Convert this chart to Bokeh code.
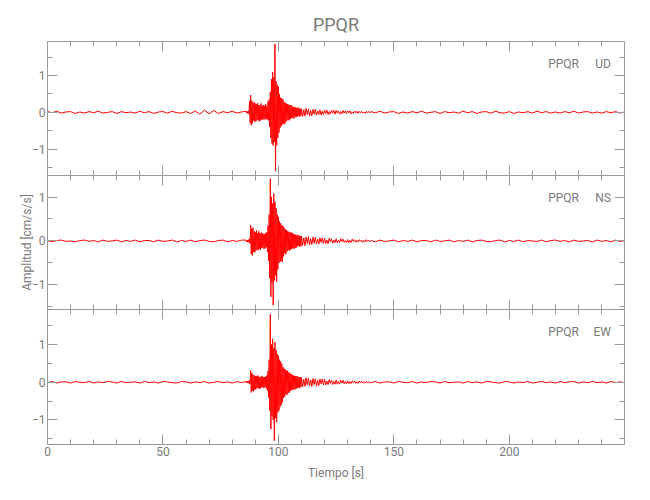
import numpy as np
from bokeh.plotting import figure
from bokeh.layouts import column
from bokeh.models import Range1d, LinearAxis, SingleIntervalTicker, Label, CustomLabelingPolicy
from bokeh.embed import file_html
from bokeh.resources import INLINE

STATION = "PPQR"
COMPONENTS = ["UD", "NS", "EW"]
X_LIMITS = (0, 249.9)
Y_LIMITS = [(-1.72, 1.93), (-1.56, 1.49), (-1.65, 1.93)]

# sampling of each record segment: (start time [s], sample step [s])
SEG_START = [0.0, 86.0, 110.0, 140.0]
SEG_STEP = [2.0, 0.25, 0.5, 2.0]

# ---------------- UD ----------------
ud_pre = [0.02, -0.01, 0.03, -0.02, 0.01, 0.02, -0.03, 0.01, -0.02, 0.02,
          -0.01, 0.03, -0.02, 0.00, 0.02, -0.03, 0.02, -0.01, 0.01, -0.02,
          0.03, -0.01, 0.02, -0.03, 0.01, 0.02, -0.02, 0.03, -0.01, -0.02,
          0.02, -0.03, 0.04, -0.05, 0.06, -0.04, 0.05, -0.03, 0.02, -0.01,
          0.03, -0.02, 0.01]
ud_burst = [0.03, -0.02, 0.03, -0.03, 0.04, -0.05, 0.30, -0.28,
            0.47, -0.35, 0.32, -0.30, 0.26, -0.22, 0.28, -0.25,
            0.24, -0.25, 0.22, -0.20, 0.25, -0.22, 0.20, -0.24,
            0.20, -0.22, 0.24, -0.19, 0.18, -0.21, 0.20, -0.17,
            0.18, -0.20, 0.22, -0.18, 0.16, -0.19, 0.30, -0.22,
            0.35, -0.40, 0.55, -0.70, 0.90, -0.85, 1.10, -0.90,
            0.95, -0.80, 1.86, -1.60, 0.85, -0.90, 0.75, -0.70,
            0.70, -0.55, 0.50, -0.42, 0.40, -0.36, 0.38, -0.33,
            0.35, -0.30, 0.28, -0.32, 0.25, -0.26, 0.24, -0.22,
            0.22, -0.20, 0.21, -0.22, 0.19, -0.17, 0.20, -0.16,
            0.16, -0.15, 0.15, -0.17, 0.13, -0.13, 0.14, -0.13,
            0.12, -0.11, 0.13, -0.10, 0.11, -0.12, 0.10, -0.09]
ud_coda = [0.10, -0.11, 0.07, -0.10, 0.11, -0.06, 0.09, -0.10, 0.05, -0.09,
           0.08, -0.05, 0.09, -0.08, 0.04, -0.06, 0.07, -0.07, 0.03, -0.06,
           0.06, -0.03, 0.06, -0.06, 0.02, -0.05, 0.06, -0.02, 0.05, -0.05,
           0.05, -0.02, 0.04, -0.05, 0.02, -0.04, 0.05, -0.02, 0.04, -0.03,
           0.04, -0.01, 0.04, -0.04, 0.01, -0.03, 0.04, -0.01, 0.03, -0.03,
           0.03, -0.01, 0.03, -0.02, 0.01, -0.03, 0.02, -0.01, 0.03, -0.02]
ud_post = [0.02, -0.01, 0.03, -0.02, 0.01, 0.02, -0.03, 0.01, -0.02, 0.02,
           -0.01, 0.03, -0.02, 0.00, 0.02, -0.03, 0.02, -0.01, 0.01, -0.02,
           0.03, -0.01, 0.02, -0.03, 0.01, 0.02, -0.02, 0.03, -0.01, -0.02,
           0.02, -0.03, 0.01, -0.01, 0.02, -0.02, 0.03, -0.01, 0.02, -0.02,
           0.01, -0.02, 0.02, -0.01, 0.03, -0.02, 0.01, 0.02, -0.02, 0.01,
           -0.02, 0.02, -0.01, 0.02, -0.02, 0.01]

# ---------------- NS ----------------
ns_pre = [0.01, -0.02, 0.01, 0.02, -0.01, 0.00, -0.02, 0.01, 0.02, -0.01,
          0.01, -0.02, 0.02, -0.01, 0.00, 0.02, -0.02, 0.01, -0.01, 0.02,
          -0.02, 0.01, 0.01, -0.02, 0.02, -0.01, 0.00, 0.02, -0.02, 0.01,
          -0.01, 0.02, -0.02, 0.01, 0.02, -0.01, -0.02, 0.01, 0.02, -0.02,
          0.01, -0.01, 0.02]
ns_burst = [0.02, -0.02, 0.02, -0.03, 0.03, -0.03, 0.05, -0.06,
            0.36, -0.30, 0.28, -0.33, 0.30, -0.25, 0.22, -0.26,
            0.20, -0.22, 0.24, -0.20, 0.18, -0.21, 0.22, -0.18,
            0.17, -0.20, 0.19, -0.16, 0.18, -0.15, 0.16, -0.18,
            0.15, -0.17, 0.18, -0.14, 0.20, -0.25, 0.35, -0.45,
            0.60, -0.85, 1.42, -1.27, 1.00, -0.95, 0.85, -1.46,
            1.08, -0.90, 0.89, -0.78, 0.75, -0.93, 0.60, -0.65,
            0.55, -0.50, 0.45, -0.48, 0.40, -0.45, 0.36, -0.48,
            0.34, -0.35, 0.30, -0.28, 0.26, -0.30, 0.25, -0.24,
            0.22, -0.20, 0.21, -0.22, 0.19, -0.20, 0.20, -0.18,
            0.18, -0.17, 0.16, -0.18, 0.15, -0.16, 0.14, -0.15,
            0.13, -0.12, 0.14, -0.11, 0.12, -0.13, 0.11, -0.12]
ns_coda = [0.11, -0.10, 0.07, -0.11, 0.09, -0.06, 0.10, -0.09, 0.05, -0.08,
           0.09, -0.05, 0.08, -0.07, 0.04, -0.07, 0.07, -0.03, 0.07, -0.06,
           0.06, -0.06, 0.02, -0.06, 0.06, -0.02, 0.05, -0.05, 0.02, -0.04,
           0.05, -0.04, 0.02, -0.04, 0.05, -0.01, 0.04, -0.03, 0.01, -0.04,
           0.03, -0.04, 0.01, -0.03, 0.04, -0.01, 0.03, -0.03, 0.01, -0.02,
           0.03, -0.01, 0.02, -0.03, 0.01, -0.02, 0.03, -0.01, 0.02, -0.02]
ns_post = [0.01, -0.02, 0.02, -0.01, 0.00, 0.02, -0.02, 0.01, -0.01, 0.02,
           -0.02, 0.01, 0.01, -0.02, 0.02, -0.01, 0.00, 0.02, -0.02, 0.01,
           -0.01, 0.02, -0.02, 0.01, 0.02, -0.01, -0.02, 0.01, 0.02, -0.02,
           0.01, -0.01, 0.02, -0.02, 0.01, 0.00, -0.01, 0.02, -0.02, 0.01,
           0.02, -0.01, 0.01, -0.02, 0.02, -0.01, 0.00, 0.01, -0.02, 0.02,
           -0.01, 0.01, -0.02, 0.02, -0.01, 0.01]

# ---------------- EW ----------------
ew_pre = [-0.01, 0.02, -0.02, 0.01, 0.01, -0.02, 0.02, 0.00, -0.01, 0.02,
          -0.02, 0.01, -0.01, 0.02, 0.01, -0.02, 0.02, -0.01, 0.00, 0.01,
          -0.02, 0.02, -0.01, 0.01, -0.02, 0.02, 0.01, -0.01, -0.02, 0.02,
          0.01, -0.02, 0.01, -0.01, 0.02, -0.02, 0.00, 0.02, -0.01, 0.01,
          -0.02, 0.02, -0.01]
ew_burst = [0.02, -0.02, 0.03, -0.02, 0.03, -0.03, 0.05, -0.05,
            0.31, -0.27, 0.25, -0.22, 0.20, -0.24, 0.18, -0.20,
            0.17, -0.19, 0.16, -0.15, 0.18, -0.16, 0.15, -0.17,
            0.14, -0.16, 0.15, -0.13, 0.16, -0.14, 0.13, -0.15,
            0.14, -0.12, 0.15, -0.16, 0.18, -0.22, 0.30, -0.40,
            0.60, -0.75, 1.81, -1.24, 1.00, -0.90, 1.15, -1.00,
            0.90, -1.55, 1.06, -0.95, 0.85, -1.06, 0.75, -0.80,
            0.70, -0.75, 0.60, -0.65, 0.55, -0.60, 0.49, -0.53,
            0.40, -0.42, 0.36, -0.38, 0.34, -0.32, 0.30, -0.33,
            0.31, -0.28, 0.26, -0.27, 0.24, -0.22, 0.22, -0.21,
            0.20, -0.19, 0.18, -0.20, 0.17, -0.18, 0.16, -0.17,
            0.16, -0.15, 0.15, -0.14, 0.14, -0.15, 0.13, -0.12]
ew_coda = [0.13, -0.12, 0.08, -0.11, 0.12, -0.07, 0.11, -0.10, 0.06, -0.11,
           0.10, -0.06, 0.09, -0.10, 0.05, -0.09, 0.09, -0.04, 0.08, -0.07,
           0.08, -0.07, 0.03, -0.06, 0.07, -0.03, 0.06, -0.06, 0.02, -0.05,
           0.06, -0.05, 0.02, -0.05, 0.05, -0.02, 0.05, -0.04, 0.02, -0.04,
           0.04, -0.04, 0.01, -0.03, 0.04, -0.01, 0.03, -0.03, 0.01, -0.03,
           0.03, -0.01, 0.03, -0.02, 0.01, -0.02, 0.02, -0.01, 0.02, -0.02]
ew_post = [-0.01, 0.02, -0.02, 0.01, 0.01, -0.02, 0.02, 0.00, -0.01, 0.02,
           -0.02, 0.01, -0.01, 0.02, 0.01, -0.02, 0.02, -0.01, 0.00, 0.01,
           -0.02, 0.02, -0.01, 0.01, -0.02, 0.02, 0.01, -0.01, -0.02, 0.02,
           0.01, -0.02, 0.01, -0.01, 0.02, -0.02, 0.00, 0.02, -0.01, 0.01,
           -0.02, 0.02, -0.01, 0.01, 0.02, -0.02, 0.01, -0.01, 0.02, -0.01,
           0.01, -0.02, 0.02, -0.01, 0.01, -0.01]

TRACES = [
    [ud_pre, ud_burst, ud_coda, ud_post],
    [ns_pre, ns_burst, ns_coda, ns_post],
    [ew_pre, ew_burst, ew_coda, ew_post],
]

FONT = "Roboto"
TXT = "#7a7a7a"
AX = "#9a9a9a"


def build_series(segments):
    ts, vs = [], []
    for start, step, vals in zip(SEG_START, SEG_STEP, segments):
        ts.append(start + step * np.arange(len(vals)))
        vs.append(np.asarray(vals, dtype=float))
    return np.concatenate(ts), np.concatenate(vs)


def style_axis(ax, show_labels):
    ax.axis_line_color = AX
    ax.major_tick_line_color = AX
    ax.minor_tick_line_color = AX
    ax.major_tick_in = 10
    ax.major_tick_out = 0
    ax.minor_tick_in = 5
    ax.minor_tick_out = 0
    ax.major_label_text_color = TXT
    ax.major_label_text_font = FONT
    ax.axis_label_text_color = TXT
    ax.axis_label_text_font = FONT
    ax.axis_label_text_font_style = "normal"
    ax.axis_label_text_font_size = "12px"
    if show_labels:
        ax.major_label_text_font_size = "12px"
        ax.major_label_standoff = 2
    else:
        ax.major_label_policy = CustomLabelingPolicy(code="return []")
        ax.major_label_text_font_size = "0px"
        ax.major_label_standoff = 0


FRAME_H = [134, 134, 135]
figs = []
for i, comp in enumerate(COMPONENTS):
    first = i == 0
    last = i == len(COMPONENTS) - 1
    y0, y1 = Y_LIMITS[i]
    p = figure(output_backend="svg", toolbar_location=None,
               frame_width=577, frame_height=FRAME_H[i],
               x_range=Range1d(*X_LIMITS), y_range=Range1d(y0, y1),
               min_border_left=47, min_border_right=12,
               min_border_top=41 if first else 0,
               min_border_bottom=42 if last else 0,
               x_axis_location="below", y_axis_location="left")
    p.background_fill_color = "white"
    p.border_fill_color = "white"
    p.outline_line_color = None
    p.grid.visible = False

    p.xaxis.ticker = SingleIntervalTicker(interval=50, num_minor_ticks=5)
    p.yaxis.ticker = SingleIntervalTicker(interval=1, num_minor_ticks=2)
    for ax in p.xaxis:
        style_axis(ax, last)
    for ax in p.yaxis:
        style_axis(ax, True)
    if last:
        p.xaxis.axis_label = "Tiempo [s]"
        p.xaxis.axis_label_standoff = 7
    if i == 1:
        p.yaxis.axis_label = "Amplitud [cm/s/s]"
        p.yaxis.axis_label_standoff = -5

    top = LinearAxis(ticker=SingleIntervalTicker(interval=50, num_minor_ticks=5))
    style_axis(top, False)
    p.add_layout(top, "above")
    right = LinearAxis(ticker=SingleIntervalTicker(interval=1, num_minor_ticks=2))
    style_axis(right, False)
    p.add_layout(right, "right")

    if first:
        p.title.text = STATION
        p.title.align = "center"
        p.title.text_font = FONT
        p.title.text_font_size = "18px"
        p.title.text_font_style = "normal"
        p.title.text_color = TXT
        p.title.standoff = 14

    t, a = build_series(TRACES[i])
    p.line(t, a, line_color="#ff0000", line_width=1)

    ylab = y1 - 22.5 / FRAME_H[i] * (y1 - y0)
    p.add_layout(Label(x=230.2, y=ylab, text=STATION, text_align="right",
                       text_baseline="alphabetic", text_font=FONT,
                       text_font_size="12px", text_color=TXT))
    p.add_layout(Label(x=244.0, y=ylab, text=comp, text_align="right",
                       text_baseline="alphabetic", text_font=FONT,
                       text_font_size="12px", text_color=TXT))
    figs.append(p)

layout = column(*figs, spacing=0)
open("out.html", "w").write(file_html(layout, INLINE))
